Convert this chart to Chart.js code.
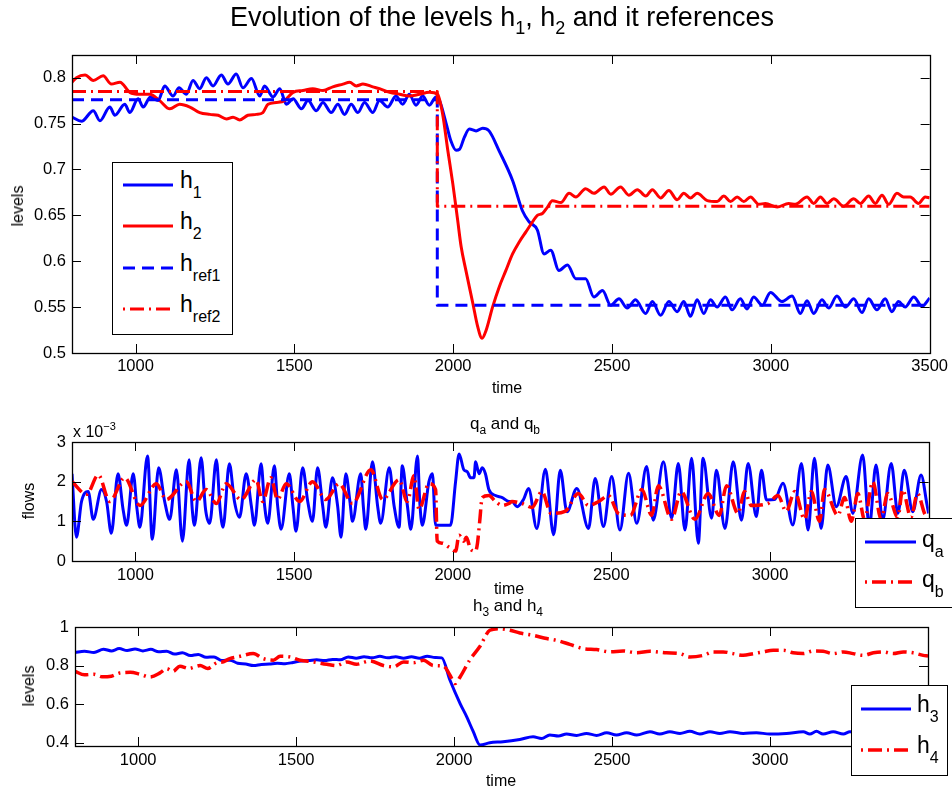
<!DOCTYPE html>
<html><head><meta charset="utf-8">
<script src="https://cdn.jsdelivr.net/npm/chart.js@4.4.1/dist/chart.umd.min.js"></script>
<style>
html,body{margin:0;padding:0;background:#fff}
body{width:952px;height:790px;overflow:hidden;position:relative;font-family:'Liberation Sans',Arial,Helvetica,sans-serif;color:#000}
canvas{position:absolute;left:0}
.t{position:absolute;white-space:nowrap;line-height:1}
.t sub,.t sup{line-height:1}
.cx{transform:translateX(-50%)}
.rot{transform:translate(-50%,-50%) rotate(-90deg)}
.lg{position:absolute;background:#fff;border:1px solid #000;box-sizing:border-box;z-index:5}
.ls{position:absolute;z-index:6}
.lt{z-index:6;font-size:23px}
.lt sub{font-size:16px;vertical-align:-10px}
</style></head>
<body>
<canvas id="c1" width="952" height="400" style="top:0"></canvas>
<canvas id="c2" width="952" height="200" style="top:400px"></canvas>
<canvas id="c3" width="952" height="190" style="top:600px"></canvas>

<div class="t cx" style="left:502px;top:4px;font-size:27px">Evolution of the levels h<sub style="font-size:18px;vertical-align:-8px">1</sub>, h<sub style="font-size:18px;vertical-align:-8px">2</sub> and it references</div>
<div class="t cx" style="left:507px;top:380px;font-size:16px">time</div>
<div class="t rot" style="left:18px;top:206px;font-size:16px">levels</div>

<div class="t cx" style="left:505px;top:415px;font-size:17px">q<sub style="font-size:12px;vertical-align:-5px">a</sub> and q<sub style="font-size:12px;vertical-align:-5px">b</sub></div>
<div class="t" style="left:73px;top:421px;font-size:16px">x 10<sup style="font-size:11px;vertical-align:7px">−3</sup></div>
<div class="t rot" style="left:29px;top:501px;font-size:16px">flows</div>
<div class="t cx" style="left:509px;top:581px;font-size:16px">time</div>

<div class="t cx" style="left:508px;top:597px;font-size:17px">h<sub style="font-size:12px;vertical-align:-5px">3</sub> and h<sub style="font-size:12px;vertical-align:-5px">4</sub></div>
<div class="t rot" style="left:29px;top:686px;font-size:16px">levels</div>
<div class="t cx" style="left:501px;top:773px;font-size:16px">time</div>

<!-- legend 1 -->
<div class="lg" style="left:112px;top:162px;width:121px;height:173px"></div>
<svg class="ls" style="left:123px;top:175px" width="52" height="20"><line x1="0" y1="10" x2="50" y2="10" stroke="#0000ff" stroke-width="3"/></svg>
<svg class="ls" style="left:123px;top:216px" width="52" height="20"><line x1="0" y1="10" x2="50" y2="10" stroke="#ff0000" stroke-width="3"/></svg>
<svg class="ls" style="left:123px;top:258px" width="52" height="20"><line x1="0" y1="10" x2="50" y2="10" stroke="#0000ff" stroke-width="3" stroke-dasharray="12 7"/></svg>
<svg class="ls" style="left:123px;top:299px" width="52" height="20"><line x1="0" y1="10" x2="50" y2="10" stroke="#ff0000" stroke-width="3" stroke-dasharray="2 5 14 5"/></svg>
<div class="t lt" style="left:180px;top:169px">h<sub>1</sub></div>
<div class="t lt" style="left:180px;top:210px">h<sub>2</sub></div>
<div class="t lt" style="left:180px;top:252px">h<sub>ref1</sub></div>
<div class="t lt" style="left:180px;top:293px">h<sub>ref2</sub></div>

<!-- legend 2 -->
<div class="lg" style="left:855px;top:518px;width:110px;height:90px"></div>
<svg class="ls" style="left:865px;top:532px" width="52" height="20"><line x1="0" y1="10" x2="51" y2="10" stroke="#0000ff" stroke-width="3"/></svg>
<svg class="ls" style="left:865px;top:572px" width="52" height="20"><line x1="0" y1="10" x2="51" y2="10" stroke="#ff0000" stroke-width="3.5" stroke-dasharray="2 5 14 5"/></svg>
<div class="t lt" style="left:922px;top:528px">q<sub>a</sub></div>
<div class="t lt" style="left:922px;top:568px">q<sub>b</sub></div>

<!-- legend 3 -->
<div class="lg" style="left:851px;top:685px;width:97px;height:91px"></div>
<svg class="ls" style="left:861px;top:699px" width="52" height="20"><line x1="0" y1="10" x2="50" y2="10" stroke="#0000ff" stroke-width="3"/></svg>
<svg class="ls" style="left:861px;top:740px" width="52" height="20"><line x1="0" y1="10" x2="50" y2="10" stroke="#ff0000" stroke-width="3.5" stroke-dasharray="2 5 14 5"/></svg>
<div class="t lt" style="left:917px;top:693px">h<sub>3</sub></div>
<div class="t lt" style="left:917px;top:734px">h<sub>4</sub></div>

<script>
// ---------- data (time, value) ----------
const xTicks = [1000, 1500, 2000, 2500, 3000, 3500];
const xTickLabels = ['1000', '1500', '2000', '2500', '3000', '3500'];

const yTicksTop = [0.5, 0.55, 0.6, 0.65, 0.7, 0.75, 0.8];
const yLabelsTop = ['0.5', '0.55', '0.6', '0.65', '0.7', '0.75', '0.8'];
const yTicksMid = [0, 1, 2, 3];
const yLabelsMid = ['0', '1', '2', '3'];
const yTicksBot = [0.4, 0.6, 0.8, 1];
const yLabelsBot = ['0.4', '0.6', '0.8', '1'];

const h1 = [[800,0.757],[830,0.7525],[867,0.764],[888,0.753],[919,0.768],[935,0.759],[966,0.771],[982,0.762],[1008,0.777],[1024,0.768],[1047,0.779],[1071,0.775],[1092,0.791],[1118,0.780],[1137,0.789],[1160,0.782],[1181,0.797],[1202,0.788],[1223,0.800],[1244,0.791],[1270,0.803],[1291,0.793],[1317,0.804],[1338,0.789],[1365,0.799],[1391,0.780],[1406,0.791],[1433,0.779],[1454,0.788],[1475,0.771],[1496,0.777],[1522,0.766],[1543,0.775],[1569,0.764],[1590,0.773],[1616,0.762],[1637,0.771],[1658,0.760],[1679,0.771],[1700,0.762],[1721,0.773],[1747,0.762],[1768,0.775],[1794,0.768],[1820,0.780],[1841,0.771],[1862,0.782],[1883,0.770],[1904,0.780],[1925,0.770],[1946,0.779],[1957,0.775],[1978,0.750],[1993,0.731],[2009,0.721],[2020,0.722],[2035,0.735],[2051,0.744],[2072,0.742],[2093,0.745],[2113,0.742],[2145,0.720],[2187,0.688],[2218,0.655],[2239,0.643],[2265,0.634],[2286,0.608],[2307,0.612],[2333,0.590],[2360,0.596],[2386,0.581],[2417,0.581],[2443,0.561],[2470,0.568],[2496,0.552],[2522,0.559],[2548,0.549],[2574,0.558],[2606,0.543],[2627,0.556],[2653,0.541],[2679,0.556],[2705,0.545],[2726,0.556],[2747,0.540],[2768,0.558],[2789,0.543],[2810,0.558],[2831,0.550],[2857,0.561],[2878,0.547],[2904,0.559],[2925,0.548],[2946,0.561],[2973,0.552],[2999,0.566],[3035,0.556],[3067,0.562],[3093,0.543],[3114,0.557],[3135,0.543],[3161,0.558],[3182,0.549],[3208,0.562],[3235,0.550],[3261,0.559],[3287,0.544],[3308,0.559],[3334,0.547],[3360,0.559],[3381,0.545],[3402,0.556],[3423,0.550],[3450,0.561],[3476,0.551],[3500,0.560]];

const h2 = [[800,0.795],[814,0.800],[841,0.803],[867,0.797],[898,0.802],[924,0.793],[951,0.795],[982,0.784],[1013,0.782],[1045,0.782],[1076,0.775],[1108,0.766],[1139,0.771],[1171,0.768],[1202,0.762],[1234,0.760],[1260,0.759],[1286,0.755],[1307,0.757],[1328,0.754],[1354,0.759],[1380,0.760],[1401,0.762],[1417,0.771],[1443,0.773],[1469,0.775],[1496,0.784],[1527,0.786],[1558,0.788],[1590,0.786],[1621,0.790],[1653,0.793],[1674,0.795],[1695,0.791],[1716,0.793],[1747,0.790],[1768,0.788],[1800,0.784],[1831,0.782],[1862,0.780],[1894,0.782],[1925,0.784],[1951,0.782],[1967,0.760],[1983,0.721],[1999,0.684],[2014,0.645],[2025,0.616],[2040,0.590],[2062,0.554],[2077,0.529],[2091,0.516],[2103,0.524],[2124,0.550],[2145,0.572],[2166,0.590],[2187,0.608],[2208,0.621],[2229,0.632],[2250,0.643],[2265,0.650],[2281,0.652],[2297,0.659],[2312,0.666],[2339,0.664],[2365,0.674],[2386,0.670],[2417,0.679],[2443,0.674],[2475,0.681],[2496,0.673],[2527,0.681],[2553,0.672],[2580,0.678],[2606,0.671],[2627,0.678],[2653,0.669],[2679,0.677],[2705,0.667],[2726,0.674],[2747,0.669],[2768,0.674],[2800,0.666],[2831,0.665],[2852,0.671],[2873,0.665],[2894,0.670],[2915,0.665],[2936,0.670],[2962,0.662],[2983,0.663],[3020,0.659],[3056,0.663],[3077,0.662],[3114,0.670],[3135,0.663],[3156,0.670],[3177,0.663],[3198,0.668],[3229,0.660],[3261,0.668],[3282,0.663],[3308,0.671],[3329,0.663],[3350,0.672],[3371,0.662],[3397,0.674],[3418,0.670],[3439,0.670],[3465,0.663],[3486,0.670],[3500,0.669]];

const href1 = [[800,0.776],[1950,0.776],[1950,0.552],[3500,0.552]];
const href2 = [[800,0.785],[1950,0.785],[1950,0.660],[3500,0.660]];

// flows, in units of 1e-3
const qa = [[800,2.2],[814,0.6],[830,1.5],[851,1.75],[867,1.05],[893,1.8],[909,1.5],[924,0.7],[945,2.2],[961,1.3],[972,0.9],[993,2.2],[1005,1.3],[1014,0.85],[1038,2.65],[1053,0.55],[1073,2.35],[1092,1.5],[1108,1.05],[1129,2.3],[1148,0.5],[1169,2.55],[1179,1.3],[1186,0.9],[1207,2.6],[1221,1.3],[1234,0.95],[1255,2.55],[1267,1.3],[1276,0.85],[1296,2.45],[1312,1.5],[1328,1.1],[1349,2.2],[1365,1.4],[1375,0.9],[1396,2.45],[1407,1.4],[1417,0.95],[1438,2.4],[1448,1.4],[1459,0.8],[1485,2.2],[1496,1.4],[1506,0.75],[1527,2.35],[1543,1.5],[1558,1.0],[1574,2.35],[1590,1.4],[1600,0.85],[1621,2.1],[1637,1.4],[1648,0.6],[1663,2.2],[1676,1.5],[1684,1.0],[1710,2.2],[1719,1.3],[1726,0.8],[1747,2.5],[1763,1.4],[1773,0.95],[1800,2.35],[1815,1.4],[1831,0.85],[1841,2.4],[1857,1.4],[1868,0.8],[1889,2.65],[1896,1.5],[1904,0.9],[1925,2.0],[1936,2.2],[1946,0.9],[1993,0.9],[2009,2.0],[2020,2.7],[2035,2.3],[2046,2.25],[2056,2.1],[2067,2.1],[2072,2.5],[2083,2.2],[2093,2.35],[2103,2.2],[2114,1.8],[2135,1.65],[2156,1.6],[2177,1.5],[2187,1.5],[2203,1.37],[2223,1.55],[2239,1.83],[2265,0.82],[2292,2.31],[2318,0.66],[2339,2.29],[2360,1.24],[2391,1.83],[2428,0.82],[2449,2.08],[2475,0.87],[2501,2.13],[2527,0.78],[2554,2.21],[2580,0.95],[2611,2.38],[2632,1.03],[2664,2.5],[2690,1.08],[2711,2.46],[2732,0.78],[2753,2.59],[2774,0.45],[2789,2.59],[2816,1.08],[2831,2.29],[2858,0.82],[2884,2.5],[2910,1.03],[2931,2.46],[2957,1.12],[2973,2.29],[2989,1.54],[3015,1.55],[3041,1.96],[3072,0.91],[3099,2.46],[3120,0.78],[3140,2.59],[3161,0.82],[3182,2.42],[3209,1.37],[3240,2.13],[3261,1.2],[3292,2.67],[3313,0.87],[3334,2.42],[3355,1.03],[3382,2.46],[3403,1.2],[3423,2.29],[3450,1.24],[3476,2.17],[3495,1.41],[3500,1.2]];

const qb = [[800,2.0],[846,1.68],[883,2.17],[919,1.5],[966,2.1],[1014,1.4],[1066,1.95],[1097,1.55],[1160,2.0],[1192,1.5],[1223,1.8],[1255,1.45],[1286,1.95],[1333,1.55],[1380,2.05],[1401,1.5],[1427,2.1],[1448,1.55],[1475,1.95],[1517,1.5],[1558,2.0],[1600,1.55],[1642,1.95],[1684,1.45],[1742,2.3],[1779,1.55],[1831,2.05],[1857,1.5],[1878,2.15],[1894,1.3],[1925,1.95],[1946,1.8],[1951,0.5],[1967,0.45],[1988,0.35],[2009,0.25],[2020,0.65],[2035,0.5],[2043,0.6],[2056,0.3],[2072,0.25],[2078,0.45],[2085,1.0],[2093,1.6],[2114,1.65],[2135,1.5],[2156,1.4],[2177,1.45],[2187,1.5],[2218,1.45],[2250,1.35],[2281,1.75],[2310,1.2],[2354,1.25],[2396,1.7],[2428,1.4],[2460,1.5],[2491,1.65],[2522,1.2],[2560,1.15],[2596,1.8],[2627,1.15],[2648,1.9],[2690,1.05],[2720,1.75],[2763,1.05],[2805,1.7],[2840,1.15],[2863,1.9],[2899,1.2],[2920,1.75],[2941,1.4],[2994,1.45],[3025,1.65],[3051,1.25],[3078,1.75],[3109,1.05],[3130,1.75],[3156,1.0],[3172,1.8],[3214,1.15],[3235,1.6],[3256,1.0],[3277,1.7],[3298,1.05],[3324,2.0],[3350,1.05],[3371,1.7],[3403,1.1],[3418,1.8],[3444,1.1],[3465,1.7],[3492,1.15],[3500,1.2]];

const h3 = [[800,0.868],[830,0.874],[860,0.868],[890,0.885],[915,0.876],[940,0.888],[965,0.878],[990,0.886],[1015,0.876],[1040,0.884],[1065,0.872],[1090,0.874],[1115,0.860],[1140,0.866],[1165,0.852],[1190,0.858],[1215,0.843],[1240,0.845],[1265,0.826],[1290,0.828],[1315,0.812],[1340,0.808],[1365,0.800],[1390,0.806],[1415,0.808],[1440,0.812],[1465,0.810],[1490,0.816],[1515,0.824],[1540,0.826],[1565,0.830],[1590,0.826],[1615,0.832],[1640,0.830],[1665,0.845],[1690,0.838],[1715,0.846],[1740,0.840],[1765,0.848],[1790,0.840],[1815,0.846],[1840,0.838],[1865,0.846],[1890,0.838],[1915,0.848],[1940,0.842],[1961,0.840],[1987,0.724],[2019,0.603],[2040,0.534],[2060,0.460],[2082,0.388],[2113,0.400],[2155,0.405],[2208,0.417],[2250,0.431],[2277,0.422],[2303,0.440],[2330,0.435],[2356,0.445],[2388,0.438],[2419,0.448],[2451,0.438],[2483,0.452],[2514,0.440],[2546,0.452],[2578,0.440],[2620,0.457],[2651,0.445],[2683,0.457],[2715,0.448],[2746,0.459],[2778,0.445],[2810,0.457],[2841,0.448],[2873,0.457],[2915,0.448],[2957,0.452],[2999,0.445],[3052,0.448],[3105,0.457],[3126,0.445],[3147,0.459],[3168,0.445],[3200,0.457],[3232,0.445],[3253,0.457],[3300,0.447],[3350,0.455],[3400,0.446],[3450,0.455],[3500,0.448]];

const h4 = [[800,0.770],[830,0.752],[860,0.755],[885,0.742],[915,0.745],[942,0.762],[975,0.765],[1006,0.755],[1037,0.741],[1069,0.762],[1090,0.784],[1110,0.770],[1132,0.797],[1160,0.785],[1196,0.800],[1220,0.785],[1248,0.814],[1270,0.820],[1290,0.836],[1322,0.848],[1364,0.862],[1396,0.836],[1428,0.828],[1449,0.848],[1480,0.845],[1512,0.828],[1554,0.819],[1597,0.807],[1628,0.800],[1660,0.819],[1691,0.807],[1734,0.824],[1776,0.800],[1808,0.793],[1840,0.819],[1871,0.815],[1903,0.828],[1934,0.800],[1966,0.797],[1987,0.750],[2003,0.707],[2019,0.741],[2050,0.830],[2082,0.900],[2113,0.983],[2145,0.991],[2177,0.983],[2208,0.969],[2250,0.957],[2293,0.940],[2324,0.931],[2366,0.910],[2409,0.888],[2451,0.883],[2493,0.871],[2535,0.876],[2578,0.866],[2620,0.874],[2672,0.866],[2715,0.862],[2746,0.845],[2789,0.853],[2820,0.871],[2852,0.871],[2883,0.862],[2915,0.853],[2947,0.862],[2978,0.871],[3010,0.879],[3042,0.879],[3073,0.866],[3105,0.862],[3137,0.876],[3168,0.874],[3200,0.862],[3232,0.871],[3263,0.862],[3295,0.853],[3327,0.866],[3358,0.871],[3390,0.862],[3422,0.871],[3453,0.866],[3485,0.853],[3500,0.850]];

// ---------- chart setup ----------
const FONT = "'Liberation Sans', Arial, Helvetica, sans-serif";
const BLUE = '#0000ff', RED = '#ff0000';
const xy = arr => arr.map(p => ({x: p[0], y: p[1]}));

const framePlugin = {
  id: 'frame',
  afterDatasetsDraw(chart) {
    const {ctx, chartArea: a, scales: {x, y}} = chart;
    const L = 9;
    ctx.save();
    ctx.strokeStyle = '#000';
    ctx.lineWidth = 1;
    ctx.beginPath();
    x.ticks.forEach(t => {
      const p = Math.round(x.getPixelForValue(t.value)) + 0.5;
      ctx.moveTo(p, a.bottom); ctx.lineTo(p, a.bottom - L);
      ctx.moveTo(p, a.top); ctx.lineTo(p, a.top + L);
    });
    y.ticks.forEach(t => {
      const p = Math.round(y.getPixelForValue(t.value)) + 0.5;
      ctx.moveTo(a.left, p); ctx.lineTo(a.left + L, p);
      ctx.moveTo(a.right, p); ctx.lineTo(a.right - L, p);
    });
    ctx.stroke();
    ctx.lineWidth = 1.3;
    ctx.strokeRect(Math.round(a.left) + 0.5, Math.round(a.top) + 0.5, Math.round(a.right - a.left), Math.round(a.bottom - a.top));
    ctx.restore();
  }
};

function makeChart(id, datasets, o) {
  return new Chart(document.getElementById(id), {
    type: 'line',
    data: {datasets},
    options: {
      responsive: false,
      animation: false,
      events: [],
      layout: {padding: {top: o.top, right: o.right, left: 0, bottom: 0}},
      plugins: {legend: {display: false}, tooltip: {enabled: false}, title: {display: false}},
      elements: {point: {radius: 0}, line: {borderCapStyle: 'butt', borderJoinStyle: 'round'}},
      scales: {
        x: {
          type: 'linear', min: 800, max: 3500,
          afterBuildTicks: s => { s.ticks = xTicks.map(v => ({value: v})); },
          afterFit: s => { s.height = o.xh; },
          grid: {display: false, drawTicks: false},
          border: {display: false},
          ticks: {font: {family: FONT, size: 16.5}, color: '#000', padding: o.xpad, maxRotation: 0, autoSkip: false,
                  callback: (v, i) => xTickLabels[i]}
        },
        y: {
          type: 'linear', min: o.ymin, max: o.ymax,
          afterBuildTicks: s => { s.ticks = o.yt.map(v => ({value: v})); },
          afterFit: s => { s.width = o.yw; },
          grid: {display: false, drawTicks: false},
          border: {display: false},
          ticks: {font: {family: FONT, size: 16.5}, color: '#000', padding: 6, autoSkip: false,
                  callback: (v, i) => o.yl[i]}
        }
      }
    },
    plugins: [framePlugin]
  });
}

makeChart('c1', [
  {data: xy(h1), borderColor: BLUE, borderWidth: 3, cubicInterpolationMode: 'monotone', order: 4},
  {data: xy(h2), borderColor: RED, borderWidth: 3, cubicInterpolationMode: 'monotone', order: 3},
  {data: xy(href1), borderColor: BLUE, borderWidth: 3, borderDash: [12, 7], tension: 0, order: 2},
  {data: xy(href2), borderColor: RED, borderWidth: 3, borderDash: [14, 5, 2, 5], tension: 0, order: 1}
], {top: 55, right: 21, xh: 47, xpad: 4, yw: 72, ymin: 0.5, ymax: 0.8247, yt: yTicksTop, yl: yLabelsTop});

makeChart('c2', [
  {data: xy(qa), borderColor: BLUE, borderWidth: 3, cubicInterpolationMode: 'monotone', order: 2},
  {data: xy(qb), borderColor: RED, borderWidth: 3.5, borderDash: [14, 5, 2, 5], cubicInterpolationMode: 'monotone', order: 1}
], {top: 42, right: 22, xh: 39, xpad: 5, yw: 72, ymin: 0, ymax: 3, yt: yTicksMid, yl: yLabelsMid});

makeChart('c3', [
  {data: xy(h3), borderColor: BLUE, borderWidth: 3, cubicInterpolationMode: 'monotone', order: 2},
  {data: xy(h4), borderColor: RED, borderWidth: 3.5, borderDash: [14, 5, 2, 5], cubicInterpolationMode: 'monotone', order: 1}
], {top: 27, right: 24, xh: 44, xpad: 5, yw: 75, ymin: 0.383, ymax: 1, yt: yTicksBot, yl: yLabelsBot});
</script>
</body></html>
